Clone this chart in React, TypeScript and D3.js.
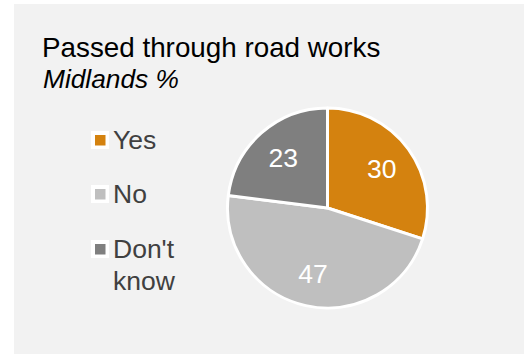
import React from "react";
import * as d3 from "d3";

const categories = ["Yes", "No", "Don't know"];
const values = [30, 47, 23];
const colors = ["#d4820f", "#bfbfbf", "#7f7f7f"];
const legendLines = [["Yes"], ["No"], ["Don't", "know"]];
const title = "Passed through road works";
const subtitle = "Midlands %";

export default function App() {
  const W = 524, H = 354;
  const cx = 327.5, cy = 208, R = 100;
  const pie = d3.pie<number>().sort(null).value((d) => d)(values);
  const arc = d3.arc<d3.PieArcDatum<number>>().innerRadius(0).outerRadius(R);
  const labelArc = d3.arc<d3.PieArcDatum<number>>().innerRadius(34).outerRadius(R);
  const font = "'Liberation Sans', Arial, sans-serif";
  const legendY = [149, 203, 258];
  return (
    <svg width={W} height={H} style={{ position: "absolute", left: 0, top: 0 }}>
      <rect x={0} y={0} width={W} height={H} fill="#ffffff" />
      <rect x={14} y={4} width={W - 14} height={H - 4} fill="#f2f2f2" />
      <text x={42} y={56.5} fontFamily={font} fontSize={27.8} fill="#000000">{title}</text>
      <text x={43} y={88} fontFamily={font} fontSize={26.3} fontStyle="italic" fill="#000000">{subtitle}</text>
      {categories.map((c, i) => (
        <g key={c}>
          <rect x={91} y={legendY[i] - 18} width={18} height={18} fill="#ffffff" />
          <rect x={95} y={legendY[i] - 14} width={10.5} height={10.5} fill={colors[i]} />
          {legendLines[i].map((ln, j) => (
            <text key={j} x={113} y={legendY[i] + j * 32} fontFamily={font} fontSize={26.5} fill="#404040">{ln}</text>
          ))}
        </g>
      ))}
      <g transform={`translate(${cx},${cy})`}>
        {pie.map((p, i) => (
          <path key={i} d={arc(p) || ""} fill={colors[i]} stroke="#ffffff" strokeWidth={3} strokeLinejoin="round" />
        ))}
        {pie.map((p, i) => {
          const [lx, ly] = labelArc.centroid(p);
          return (
            <text key={"l" + i} x={lx} y={ly} dy="0.35em" textAnchor="middle" fontFamily={font} fontSize={26.5} fill="#ffffff">
              {p.data}
            </text>
          );
        })}
      </g>
    </svg>
  );
}
